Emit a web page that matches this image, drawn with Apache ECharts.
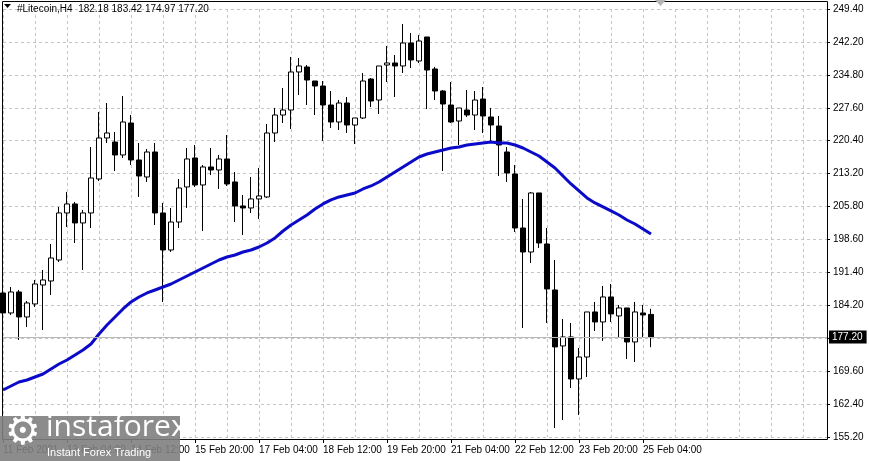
<!DOCTYPE html>
<html>
<head>
<meta charset="utf-8">
<title>#Litecoin,H4</title>
<script src="https://cdn.jsdelivr.net/npm/echarts@6/dist/echarts.min.js"></script>
<style>
  html, body { margin: 0; padding: 0; background: #fff; }
  #chart { width: 869px; height: 461px; }
</style>
</head>
<body>
<div id="chart"></div>
<script>
// 4h bars, first bar 11 Feb 2021 20:00
const slotCount = 104; // axis slots, the ones after the last bar stay empty (chart shift)
const firstBarTime = Date.UTC(2021, 1, 11, 20, 0);

// [open, high, low, close]
const bars = [
  [186.90, 190.86, 180.52, 182.50], [182.50, 188.22, 182.06, 187.12],
  [187.12, 187.56, 176.56, 181.62], [181.62, 185.14, 179.42, 184.70],
  [184.48, 189.76, 183.82, 188.88], [188.66, 191.96, 178.76, 189.76],
  [189.54, 197.68, 186.46, 194.60], [194.16, 205.83, 193.72, 204.51],
  [204.51, 209.13, 201.42, 206.49], [206.49, 206.93, 197.90, 202.31],
  [202.31, 205.17, 191.96, 204.51], [204.51, 219.03, 201.20, 212.21],
  [211.99, 226.73, 211.55, 221.01], [221.01, 228.71, 219.91, 222.11],
  [220.13, 222.33, 213.75, 217.27], [217.27, 230.25, 216.61, 224.53],
  [224.31, 226.07, 215.07, 216.17], [216.17, 219.91, 208.03, 212.65],
  [212.43, 218.59, 211.33, 217.93], [217.93, 219.91, 201.86, 204.51],
  [204.51, 206.71, 184.92, 196.36], [196.36, 205.61, 195.92, 202.52],
  [202.52, 211.99, 201.20, 210.01], [210.23, 218.81, 205.61, 216.39],
  [216.61, 219.47, 210.23, 210.67], [210.67, 215.07, 200.54, 214.63],
  [214.63, 218.81, 212.87, 213.97], [213.97, 217.27, 209.79, 216.39],
  [216.39, 221.67, 210.45, 210.89], [211.33, 213.53, 202.52, 206.05],
  [206.05, 208.47, 199.66, 205.61], [205.61, 212.43, 204.51, 207.59],
  [207.59, 214.41, 203.19, 208.25], [208.03, 224.09, 207.81, 222.11],
  [222.11, 227.61, 220.13, 226.07], [226.07, 232.01, 224.31, 227.17],
  [227.17, 238.84, 222.99, 235.54], [235.54, 238.62, 230.47, 236.86],
  [236.64, 237.08, 228.27, 233.77], [233.55, 233.55, 226.07, 232.45],
  [232.45, 233.55, 220.35, 228.27], [228.27, 231.35, 223.21, 224.53],
  [224.53, 229.37, 222.77, 228.71], [228.71, 230.03, 222.11, 223.87],
  [223.87, 225.41, 219.69, 225.41], [225.41, 235.31, 225.19, 233.55],
  [233.99, 234.21, 227.83, 229.15], [229.37, 236.86, 226.29, 236.86],
  [237.08, 241.26, 233.33, 237.52], [237.52, 239.28, 230.03, 236.86],
  [236.86, 246.10, 235.31, 241.92], [241.92, 244.12, 236.42, 238.18],
  [237.96, 243.68, 237.52, 242.36], [243.24, 243.24, 227.39, 235.97],
  [236.20, 236.64, 229.37, 231.35], [231.35, 231.57, 213.75, 228.49],
  [228.27, 233.33, 224.31, 224.53], [224.75, 227.61, 219.47, 227.61],
  [227.17, 231.57, 225.63, 226.07], [226.07, 231.35, 222.77, 229.37],
  [229.59, 232.23, 222.11, 225.85], [225.63, 227.61, 220.35, 223.87],
  [223.65, 225.85, 212.65, 219.47], [217.93, 219.03, 211.33, 213.31],
  [213.09, 215.07, 200.32, 201.20], [201.20, 207.59, 179.20, 195.92],
  [195.92, 209.13, 193.50, 208.91], [208.91, 208.91, 196.80, 197.90],
  [197.68, 201.20, 180.30, 187.78], [187.56, 194.16, 157.19, 175.02],
  [175.24, 181.18, 158.95, 177.22], [177.22, 180.30, 165.99, 167.97],
  [167.97, 174.80, 160.05, 172.81], [172.81, 182.72, 168.41, 182.72],
  [182.72, 184.92, 178.54, 180.52], [180.52, 188.44, 176.34, 186.02],
  [186.02, 188.88, 180.52, 182.28], [181.84, 184.26, 176.99, 183.60],
  [183.60, 183.60, 172.37, 176.12], [176.12, 184.92, 171.71, 182.72],
  [182.50, 184.26, 176.99, 182.06], [182.18, 183.42, 174.97, 177.20]
];

// moving average, one value per bar
const ma = [
  165.55, 166.43, 167.31, 167.75, 168.41, 169.07, 170.17, 171.27, 172.15, 173.26,
  174.36, 175.68, 177.88, 179.86, 181.62, 183.38, 184.92, 186.02, 186.90, 187.56,
  188.22, 188.88, 189.76, 190.64, 191.52, 192.40, 193.28, 194.16, 194.82, 195.26,
  195.92, 196.36, 197.02, 197.90, 199.00, 200.54, 201.86, 202.96, 204.06, 205.39,
  206.49, 207.37, 208.03, 208.47, 208.91, 209.79, 210.45, 211.33, 212.43, 213.53,
  214.63, 215.73, 216.83, 217.49, 217.93, 218.37, 218.81, 219.03, 219.47, 219.69,
  219.91, 220.13, 219.91, 219.91, 219.47, 218.81, 217.93, 217.05, 215.73, 214.41,
  212.65, 210.89, 209.35, 207.81, 206.71, 205.83, 204.95, 204.06, 202.96, 202.08,
  200.98, 199.88
];

// one label every 8 bars
const xTickLabels = [
  "11 Feb 2021", "13 Feb 04:00", "14 Feb 12:00", "15 Feb 20:00", "17 Feb 04:00",
  "18 Feb 12:00", "19 Feb 20:00", "21 Feb 04:00", "22 Feb 12:00", "23 Feb 20:00",
  "25 Feb 04:00"
];
const yTickLabels = [
  "155.20", "162.40", "169.60", "184.20", "191.40", "198.60", "205.80",
  "213.20", "220.40", "227.60", "234.80", "242.20", "249.40"
];
const yMin = 155.2;
const yMax = 249.4;
const lastPrice = 177.2;

const categories = [];
for (let i = 0; i < slotCount; i++) {
  categories.push(new Date(firstBarTime + i * 4 * 3600 * 1000).toISOString());
}

const chart = echarts.init(document.getElementById("chart"));
const font = "Liberation Sans";

chart.setOption({
  animation: false,
  backgroundColor: "#ffffff",
  grid: { left: 3, top: 9, width: 824, height: 428, containLabel: false },
  xAxis: {
    type: "category",
    data: categories,
    boundaryGap: false,
    offset: 3,
    axisLine: { show: false },
    axisTick: {
      show: true,
      length: 3,
      interval: (i) => i % 8 === 0 && i < bars.length,
      lineStyle: { color: "#000" },
    },
    axisLabel: {
      interval: (i) => i % 8 === 0 && i < bars.length,
      formatter: (v, i) => xTickLabels[i / 8] || "",
      align: "left",
      margin: 5,
      color: "#000",
      fontSize: 10,
      fontFamily: font,
    },
    splitLine: {
      show: true,
      interval: (i) => i % 4 === 0,
      lineStyle: { color: "#c4c4c4", type: [3, 3], width: 1 },
    },
  },
  yAxis: {
    type: "value",
    position: "right",
    min: yMin,
    max: yMax,
    interval: (yMax - yMin) / 13,
    scale: true,
    axisLine: { show: false },
    axisTick: { show: true, length: 3, lineStyle: { color: "#000" } },
    axisLabel: {
      margin: 6,
      color: "#000",
      fontSize: 10,
      fontFamily: font,
      formatter: (v) => {
        const hit = yTickLabels.find((s) => Math.abs(parseFloat(s) - v) < 0.5);
        return hit || "";
      },
    },
    splitLine: {
      show: true,
      lineStyle: { color: "#c4c4c4", type: [3, 3], width: 1 },
    },
  },
  series: [
    {
      name: "#Litecoin,H4",
      type: "candlestick",
      data: bars.map(([o, h, l, c]) => [o, c, l, h]),
      barWidth: 5,
      itemStyle: {
        color: "#ffffff",
        color0: "#000000",
        borderColor: "#000000",
        borderColor0: "#000000",
        borderWidth: 1,
      },
      markLine: {
        silent: true,
        symbol: ["none", "none"],
        data: [{ yAxis: lastPrice }],
        lineStyle: { color: "#b8b8b8", type: "solid", width: 1 },
        label: {
          position: "end",
          distance: 2,
          formatter: lastPrice.toFixed(2),
          color: "#fff",
          backgroundColor: "#000",
          padding: [2, 4, 1, 3],
          fontSize: 10,
          fontFamily: font,
        },
      },
    },
    {
      name: "MA",
      type: "line",
      data: ma,
      showSymbol: false,
      z: 3,
      lineStyle: { color: "#0a0ac8", width: 3 },
      itemStyle: { color: "#0a0ac8" },
    },
  ],
  graphic: [
    {
      type: "rect",
      silent: true,
      z: 100,
      shape: { x: 2.5, y: 1.5, width: 825, height: 438 },
      style: { fill: "none", stroke: "#000", lineWidth: 1 },
    },
    {
      type: "polygon",
      silent: true,
      z: 101,
      shape: { points: [[4, 4], [11, 4], [7.5, 8]] },
      style: { fill: "#000" },
    },
    {
      type: "text",
      silent: true,
      z: 101,
      left: 17,
      top: 4,
      style: {
        text: "#Litecoin,H4  182.18 183.42 174.97 177.20",
        fill: "#000",
        font: "10px " + font,
      },
    },
    {
      type: "polygon",
      silent: true,
      z: 101,
      shape: { points: [[655, 0], [666, 0], [660.5, 6]] },
      style: { fill: "#b4b4b4" },
    },
    // watermark
    {
      type: "rect",
      silent: true,
      z: 200,
      shape: { x: 0, y: 416, width: 180, height: 45 },
      style: { fill: "rgba(128,128,128,0.9)" },
    },
    {
      type: "text",
      silent: true,
      z: 201,
      x: 5,
      y: 414,
      style: { text: "\u2699", fill: "#fff", font: "40px DejaVu Sans" },
    },
    {
      type: "text",
      silent: true,
      z: 201,
      x: 46,
      y: 412,
      style: { text: "instaforex", fill: "#fff", font: "30px 'Open Sans'" },
    },
    {
      type: "text",
      silent: true,
      z: 201,
      x: 47,
      y: 447,
      style: { text: "Instant Forex Trading", fill: "#fff", font: "11px " + font },
    },
  ],
});
</script>
</body>
</html>
